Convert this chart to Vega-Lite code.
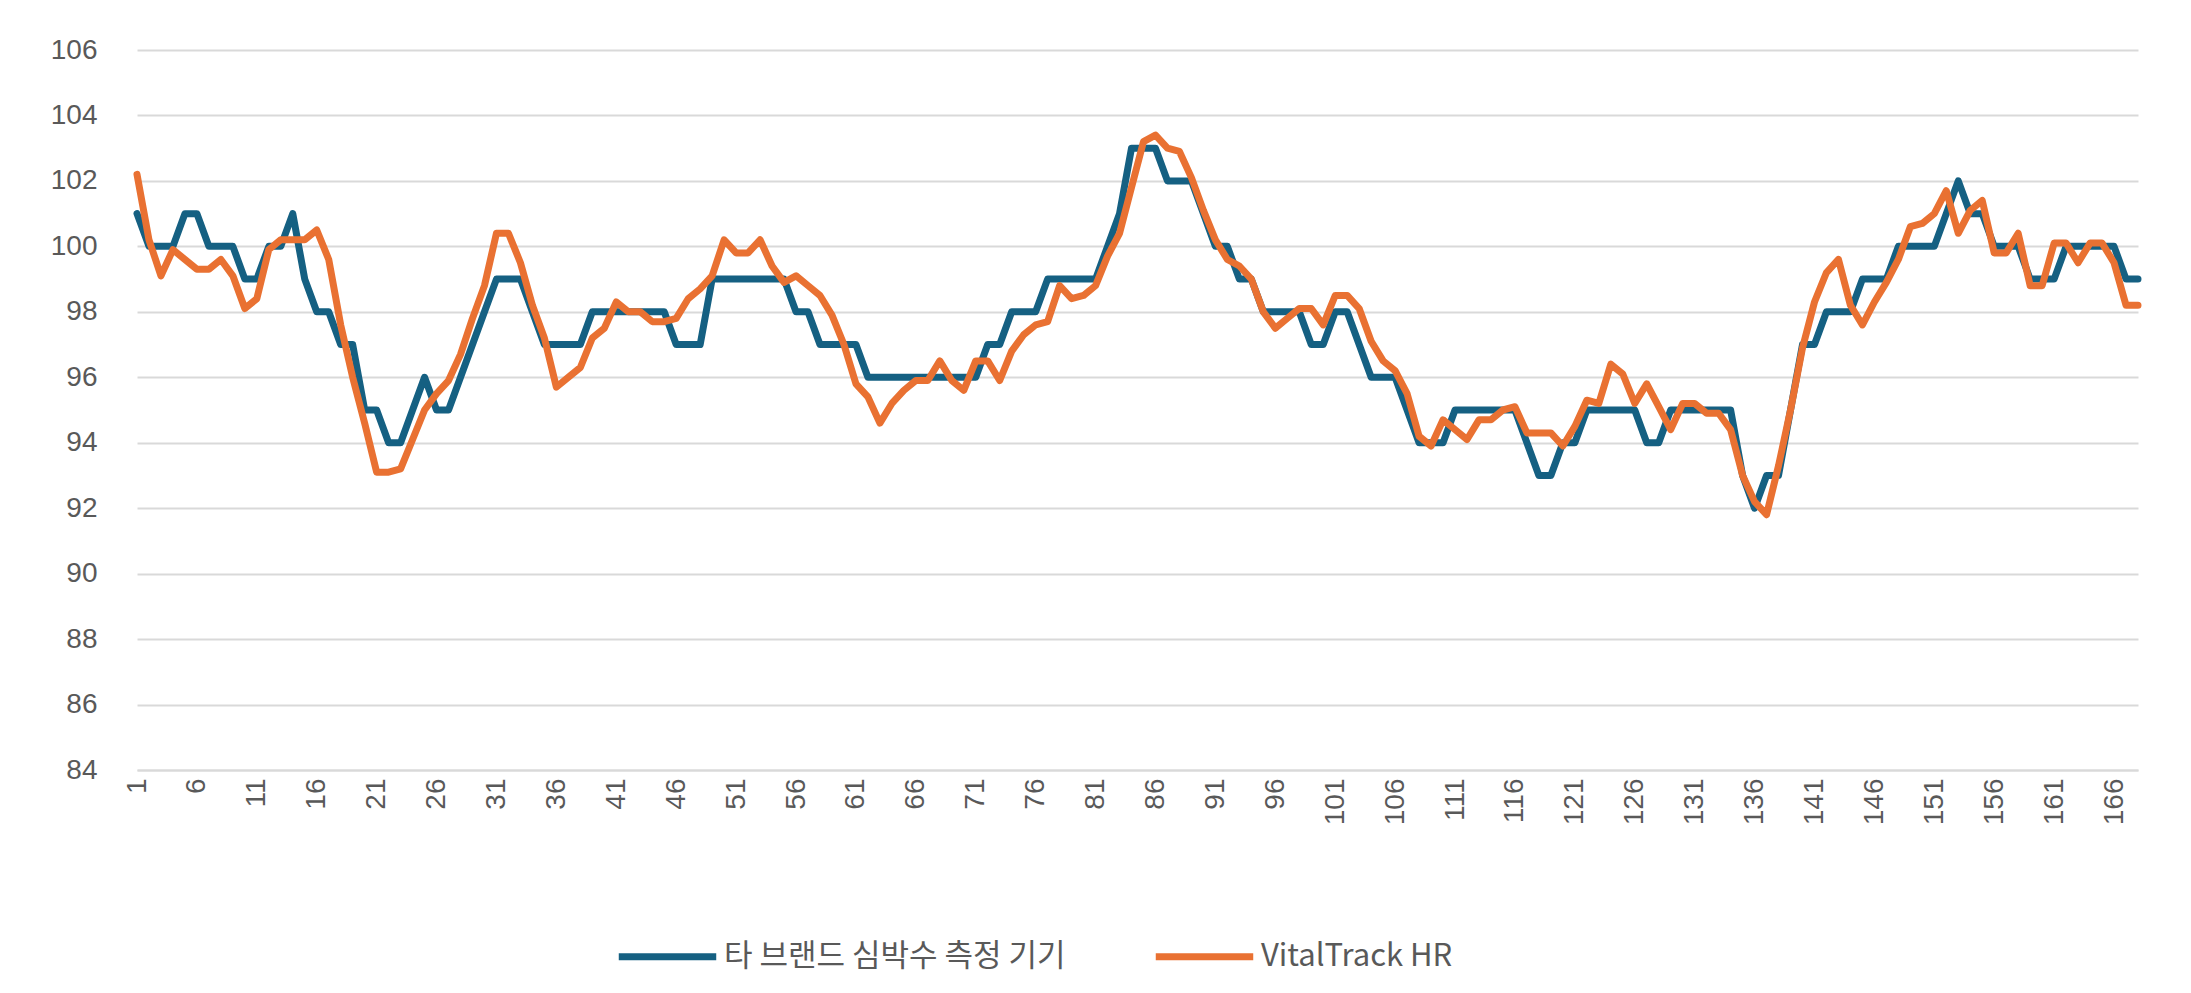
{
"$schema":"https://vega.github.io/schema/vega-lite/v6.json",
"autosize":"none","width":2001,"height":720,
"padding":{"left":137,"top":50,"right":53,"bottom":223},
"background":"white",
"data":{"values":[
{"t":1,"a":101,"b":102.2},{"t":2,"a":100,"b":100.2},{"t":3,"a":100,"b":99.1},{"t":4,"a":100,"b":99.9},{"t":5,"a":101,"b":99.6},{"t":6,"a":101,"b":99.3},{"t":7,"a":100,"b":99.3},{"t":8,"a":100,"b":99.6},{"t":9,"a":100,"b":99.1},{"t":10,"a":99,"b":98.1},
{"t":11,"a":99,"b":98.4},{"t":12,"a":100,"b":99.9},{"t":13,"a":100,"b":100.2},{"t":14,"a":101,"b":100.2},{"t":15,"a":99,"b":100.2},{"t":16,"a":98,"b":100.5},{"t":17,"a":98,"b":99.6},{"t":18,"a":97,"b":97.6},{"t":19,"a":97,"b":96.0},{"t":20,"a":95,"b":94.6},
{"t":21,"a":95,"b":93.1},{"t":22,"a":94,"b":93.1},{"t":23,"a":94,"b":93.2},{"t":24,"a":95,"b":94.1},{"t":25,"a":96,"b":95.0},{"t":26,"a":95,"b":95.5},{"t":27,"a":95,"b":95.9},{"t":28,"a":96,"b":96.7},{"t":29,"a":97,"b":97.8},{"t":30,"a":98,"b":98.8},
{"t":31,"a":99,"b":100.4},{"t":32,"a":99,"b":100.4},{"t":33,"a":99,"b":99.5},{"t":34,"a":98,"b":98.2},{"t":35,"a":97,"b":97.2},{"t":36,"a":97,"b":95.7},{"t":37,"a":97,"b":96.0},{"t":38,"a":97,"b":96.3},{"t":39,"a":98,"b":97.2},{"t":40,"a":98,"b":97.5},
{"t":41,"a":98,"b":98.3},{"t":42,"a":98,"b":98.0},{"t":43,"a":98,"b":98.0},{"t":44,"a":98,"b":97.7},{"t":45,"a":98,"b":97.7},{"t":46,"a":97,"b":97.8},{"t":47,"a":97,"b":98.4},{"t":48,"a":97,"b":98.7},{"t":49,"a":99,"b":99.1},{"t":50,"a":99,"b":100.2},
{"t":51,"a":99,"b":99.8},{"t":52,"a":99,"b":99.8},{"t":53,"a":99,"b":100.2},{"t":54,"a":99,"b":99.4},{"t":55,"a":99,"b":98.9},{"t":56,"a":98,"b":99.1},{"t":57,"a":98,"b":98.8},{"t":58,"a":97,"b":98.5},{"t":59,"a":97,"b":97.9},{"t":60,"a":97,"b":97.0},
{"t":61,"a":97,"b":95.8},{"t":62,"a":96,"b":95.4},{"t":63,"a":96,"b":94.6},{"t":64,"a":96,"b":95.2},{"t":65,"a":96,"b":95.6},{"t":66,"a":96,"b":95.9},{"t":67,"a":96,"b":95.9},{"t":68,"a":96,"b":96.5},{"t":69,"a":96,"b":95.9},{"t":70,"a":96,"b":95.6},
{"t":71,"a":96,"b":96.5},{"t":72,"a":97,"b":96.5},{"t":73,"a":97,"b":95.9},{"t":74,"a":98,"b":96.8},{"t":75,"a":98,"b":97.3},{"t":76,"a":98,"b":97.6},{"t":77,"a":99,"b":97.7},{"t":78,"a":99,"b":98.8},{"t":79,"a":99,"b":98.4},{"t":80,"a":99,"b":98.5},
{"t":81,"a":99,"b":98.8},{"t":82,"a":100,"b":99.7},{"t":83,"a":101,"b":100.4},{"t":84,"a":103,"b":101.8},{"t":85,"a":103,"b":103.2},{"t":86,"a":103,"b":103.4},{"t":87,"a":102,"b":103.0},{"t":88,"a":102,"b":102.9},{"t":89,"a":102,"b":102.1},{"t":90,"a":101,"b":101.1},
{"t":91,"a":100,"b":100.2},{"t":92,"a":100,"b":99.6},{"t":93,"a":99,"b":99.4},{"t":94,"a":99,"b":99.0},{"t":95,"a":98,"b":98.0},{"t":96,"a":98,"b":97.5},{"t":97,"a":98,"b":97.8},{"t":98,"a":98,"b":98.1},{"t":99,"a":97,"b":98.1},{"t":100,"a":97,"b":97.6},
{"t":101,"a":98,"b":98.5},{"t":102,"a":98,"b":98.5},{"t":103,"a":97,"b":98.1},{"t":104,"a":96,"b":97.1},{"t":105,"a":96,"b":96.5},{"t":106,"a":96,"b":96.2},{"t":107,"a":95,"b":95.5},{"t":108,"a":94,"b":94.2},{"t":109,"a":94,"b":93.9},{"t":110,"a":94,"b":94.7},
{"t":111,"a":95,"b":94.4},{"t":112,"a":95,"b":94.1},{"t":113,"a":95,"b":94.7},{"t":114,"a":95,"b":94.7},{"t":115,"a":95,"b":95.0},{"t":116,"a":95,"b":95.1},{"t":117,"a":94,"b":94.3},{"t":118,"a":93,"b":94.3},{"t":119,"a":93,"b":94.3},{"t":120,"a":94,"b":93.9},
{"t":121,"a":94,"b":94.5},{"t":122,"a":95,"b":95.3},{"t":123,"a":95,"b":95.2},{"t":124,"a":95,"b":96.4},{"t":125,"a":95,"b":96.1},{"t":126,"a":95,"b":95.2},{"t":127,"a":94,"b":95.8},{"t":128,"a":94,"b":95.1},{"t":129,"a":95,"b":94.4},{"t":130,"a":95,"b":95.2},
{"t":131,"a":95,"b":95.2},{"t":132,"a":95,"b":94.9},{"t":133,"a":95,"b":94.9},{"t":134,"a":95,"b":94.4},{"t":135,"a":93,"b":93.0},{"t":136,"a":92,"b":92.2},{"t":137,"a":93,"b":91.8},{"t":138,"a":93,"b":93.3},{"t":139,"a":95,"b":95.0},{"t":140,"a":97,"b":96.9},
{"t":141,"a":97,"b":98.3},{"t":142,"a":98,"b":99.2},{"t":143,"a":98,"b":99.6},{"t":144,"a":98,"b":98.2},{"t":145,"a":99,"b":97.6},{"t":146,"a":99,"b":98.3},{"t":147,"a":99,"b":98.9},{"t":148,"a":100,"b":99.6},{"t":149,"a":100,"b":100.6},{"t":150,"a":100,"b":100.7},
{"t":151,"a":100,"b":101.0},{"t":152,"a":101,"b":101.7},{"t":153,"a":102,"b":100.4},{"t":154,"a":101,"b":101.1},{"t":155,"a":101,"b":101.4},{"t":156,"a":100,"b":99.8},{"t":157,"a":100,"b":99.8},{"t":158,"a":100,"b":100.4},{"t":159,"a":99,"b":98.8},{"t":160,"a":99,"b":98.8},
{"t":161,"a":99,"b":100.1},{"t":162,"a":100,"b":100.1},{"t":163,"a":100,"b":99.5},{"t":164,"a":100,"b":100.1},{"t":165,"a":100,"b":100.1},{"t":166,"a":100,"b":99.5},{"t":167,"a":99,"b":98.2},{"t":168,"a":99,"b":98.2}
]},
"transform":[{"fold":["a","b"],"as":["k","v"]},
{"calculate":"datum.k==='a'?'타 브랜드 심박수 측정 기기':'VitalTrack HR'","as":"series"}],
"mark":{"type":"line","strokeWidth":7,"strokeJoin":"round","strokeCap":"round"},
"encoding":{
"x":{"field":"t","type":"quantitative","scale":{"domain":[1,168],"nice":false,"zero":false},
"axis":{"title":null,"values":[1,6,11,16,21,26,31,36,41,46,51,56,61,66,71,76,81,86,91,96,101,106,111,116,121,126,131,136,141,146,151,156,161,166],
"labelAngle":-90,"labelAlign":"right","labelBaseline":"middle","labelFontSize":28,"labelColor":"#595959","labelFont":"Liberation Sans","labelPadding":8,
"grid":false,"domainColor":"#d9d9d9","domainWidth":2,"ticks":false,"labelFlush":false,"labelOverlap":false}},
"y":{"field":"v","type":"quantitative","scale":{"domain":[84,106],"nice":false,"zero":false},
"axis":{"title":null,"values":[84,86,88,90,92,94,96,98,100,102,104,106],"labelFontSize":28,"labelColor":"#595959","labelFont":"Liberation Sans","labelPadding":40,
"domain":false,"ticks":false,"gridColor":"#d9d9d9","gridWidth":2}},
"color":{"field":"series","type":"nominal","sort":["타 브랜드 심박수 측정 기기","VitalTrack HR"],
"scale":{"domain":["타 브랜드 심박수 측정 기기","VitalTrack HR"],"range":["#156082","#e97132"]},
"legend":{"title":null,"orient":"none","legendX":478,"legendY":854,"direction":"horizontal","symbolType":"stroke","symbolStrokeWidth":7,"symbolSize":9500,
"labelFontSize":31,"labelColor":"#595959","labelFont":"Noto Sans CJK KR","columnPadding":75,"labelLimit":700}}
},
"config":{"view":{"stroke":null}}
}
